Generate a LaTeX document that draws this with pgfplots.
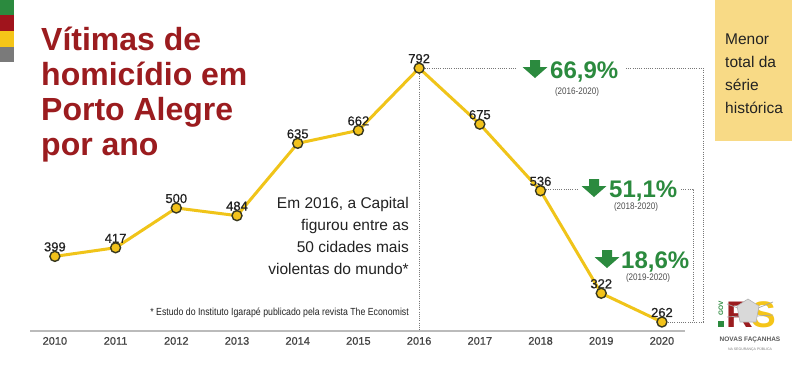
\documentclass[border=0pt]{standalone}
\usepackage{fontspec}
\setmainfont{Liberation Sans}
\newfontfamily\condensed[FakeStretch=0.85]{Liberation Sans}
\newfontfamily\medium[FakeBold=0.7]{Liberation Sans}
\usepackage{pgfplots}
\pgfplotsset{compat=1.18}
\definecolor{titlered}{HTML}{9B1C1F}
\definecolor{lineyel}{HTML}{F0C419}
\definecolor{ptfill}{HTML}{F2C21A}
\definecolor{grn}{HTML}{2B8A3E}
\definecolor{boxyel}{HTML}{F8DA86}
\definecolor{txt}{HTML}{222222}
\definecolor{axgrey}{HTML}{BBBBBB}
\definecolor{dotgrey}{HTML}{777777}
\definecolor{barred}{HTML}{A0141C}
\definecolor{baryel}{HTML}{F5C518}
\definecolor{bargrey}{HTML}{7A7A7A}
\newcommand{\garrow}[2]{\fill[grn] ({#1-5},#2) -- ({#1+5},#2) -- ({#1+5},{#2+7}) -- ({#1+12.5},{#2+7}) -- (#1,{#2+18}) -- ({#1-12.5},{#2+7}) -- ({#1-5},{#2+7}) -- cycle;}
\begin{document}
\begin{tikzpicture}
\path[fill=white] (0,0) rectangle (800pt,368pt);
\begin{axis}[
  at={(30pt,37pt)}, anchor=south west,
  width=655pt, height=331pt, scale only axis,
  xmin=2009.59, xmax=2020.38, ymin=243.2, ymax=934.2,
  axis x line=bottom, axis y line=none,
  axis line style={-, axgrey, line width=1.5pt},
  xtick={2010,2011,2012,2013,2014,2015,2016,2017,2018,2019,2020},
  xticklabel style={font=\medium\fontsize{11}{13}\selectfont, text=txt!85, yshift=-2.5pt},
  /pgf/number format/assume math mode=true,
  /pgf/number format/set thousands separator={},
  major tick length=0pt,
  clip=false,
]
\addplot[lineyel, line width=3pt, mark=*, mark size=5pt,
  mark options={fill=ptfill, draw=txt!90!yellow, line width=1.4pt}]
  coordinates {(2010,399)(2011,417)(2012,500)(2013,484)(2014,635)(2015,662)(2016,792)(2017,675)(2018,536)(2019,322)(2020,262)};
\begin{scope}[every node/.style={anchor=base, yshift=5pt, font=\medium\fontsize{13}{15}\selectfont, text=txt, inner sep=0pt}]
\node at (axis cs:2010,399) {399};
\node at (axis cs:2011,417) {417};
\node at (axis cs:2012,500) {500};
\node at (axis cs:2013,484) {484};
\node at (axis cs:2014,635) {635};
\node at (axis cs:2015,662) {662};
\node at (axis cs:2016,792) {792};
\node at (axis cs:2017,675) {675};
\node at (axis cs:2018,536) {536};
\node at (axis cs:2019,322) {322};
\node at (axis cs:2020,262) {262};
\end{scope}
\end{axis}
\begin{scope}[x=1pt, y=-1pt, yshift=368pt]
% colour bar
\fill[grn] (0,0) rectangle (14,15);
\fill[barred] (0,15) rectangle (14,31);
\fill[baryel] (0,31) rectangle (14,47);
\fill[bargrey] (0,47) rectangle (14,62);
% yellow box
\fill[boxyel] (715,0) rectangle (792,141);
\begin{scope}[every node/.style={anchor=base west, inner sep=0pt, font=\fontsize{15.5}{18}\selectfont, text=txt}]
\node at (725,44) {Menor};
\node at (725,67) {total da};
\node at (725,90) {série};
\node at (725,113) {histórica};
\end{scope}
% title
\begin{scope}[every node/.style={anchor=base west, inner sep=0pt, font=\fontsize{32}{36}\selectfont\bfseries, text=titlered}]
\node at (41,50) {Vítimas de};
\node at (41,85) {homicídio em};
\node at (41,120) {Porto Alegre};
\node at (41,155) {por ano};
\end{scope}
% note
\begin{scope}[every node/.style={anchor=base east, inner sep=0pt, font=\fontsize{15.5}{18}\selectfont, text=txt}]
\node at (409,208) {Em 2016, a Capital};
\node at (409,230) {figurou entre as};
\node at (409,252) {50 cidades mais};
\node at (409,274) {violentas do mundo*};
\end{scope}
\node[anchor=base east, inner sep=0pt, font=\condensed\fontsize{10.3}{12}\selectfont, text=txt] at (409,315) {* Estudo do Instituto Igarapé publicado pela revista The Economist};
% dotted guide lines
\begin{scope}[dotgrey, line width=0.8pt, dash pattern=on 1pt off 1.2pt]
\draw (419,74) -- (419,331);
\draw (425,68) -- (517,68);
\draw (626,68) -- (703,68) -- (703,322) -- (668,322);
\draw (546,189) -- (578,189);
\draw (681,189) -- (693,189) -- (693,322);
\end{scope}
% arrows and percentages
\garrow{535}{60}
\garrow{594}{179}
\garrow{607}{250}
\begin{scope}[every node/.style={anchor=base west, inner sep=0pt, font=\fontsize{24}{27}\selectfont\bfseries, text=grn}]
\node at (550,78) {66,9\%};
\node at (609,197) {51,1\%};
\node at (621,268) {18,6\%};
\end{scope}
\begin{scope}[every node/.style={inner sep=0pt, font=\condensed\fontsize{9.5}{11}\selectfont, text=txt!80}]
\node at (577,92) {(2016-2020)};
\node at (636,207) {(2018-2020)};
\node at (648,278) {(2019-2020)};
\end{scope}
% logo
\fill[grn] (718,321) rectangle (724,327);
\node[rotate=90, inner sep=0pt, font=\fontsize{6.5}{7}\selectfont\bfseries, text=grn] at (721,308) {GOV};
\node[anchor=base west, inner sep=0pt, font=\fontsize{37}{40}\selectfont\bfseries, text=titlered] at (726,327) {R};
\node[anchor=base west, inner sep=0pt, font=\fontsize{37}{40}\selectfont\bfseries, text=baryel] at (751,327) {S};
\draw[gray!70, line width=0.7pt] (727,304) -- (738,308);
\draw[gray!70, line width=0.7pt] (727,317) -- (739,316);
\draw[gray!70, line width=0.7pt] (758,308) -- (773,302);
\draw[gray!70, line width=0.7pt] (757,316) -- (773,315);
\filldraw[fill=gray!30, draw=gray!60, line width=0.6pt] (737,306) -- (748,299) -- (759,306) -- (756,322) -- (740,322) -- cycle;
\node[inner sep=0pt, font=\fontsize{6.5}{7}\selectfont\bfseries, text=txt!75] at (750,339.5) {NOVAS FAÇANHAS};
\node[inner sep=0pt, font=\fontsize{3.5}{4}\selectfont, text=txt!60] at (750,349) {NA SEGURANÇA PÚBLICA};
\end{scope}
\end{tikzpicture}
\end{document}
